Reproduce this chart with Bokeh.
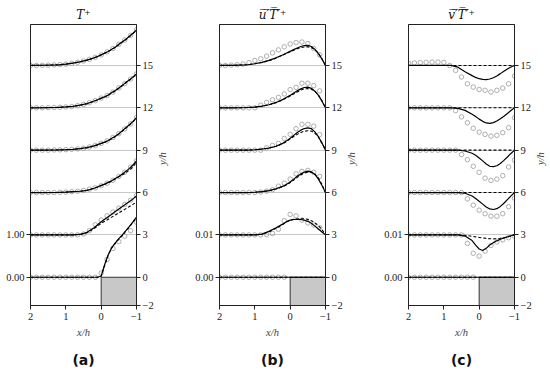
import math
from bokeh.plotting import figure
from bokeh.models import Range1d, LinearAxis, FixedTicker, Title
from bokeh.layouts import row
from bokeh.embed import file_html
from bokeh.resources import INLINE

NaN = float("nan")

# ---------------- data ----------------
offsets = [0, 3, 6, 9, 12, 15]                      # y/h of each profile
right_ticks = [-2, 0, 3, 6, 9, 12, 15]
right_tick_labels = ["\u22122", "0", "3", "6", "9", "12", "15"]
x_ticks = [2, 1, 0, -1]
x_tick_labels = ["2", "1", "0", "\u22121"]
block_x = [0, -1]
block_y = [-2, 0]

x_line = [2.0, 1.6, 1.2, 1.0, 0.8, 0.6, 0.4, 0.2, 0.1, 0.0,
          -0.1, -0.2, -0.3, -0.4, -0.5, -0.6, -0.7, -0.8, -0.9, -1.0]
x_circ = [2.0, 1.833, 1.667, 1.5, 1.333, 1.167, 1.0, 0.833, 0.667, 0.5,
          0.333, 0.167, 0.0, -0.167, -0.333, -0.5, -0.667, -0.833, -1.0]

# (a) T+
T_solid = [
    [0, 0, 0, 0, 0, 0, 0, 0, 0, 0.03, 0.3, 0.53, 0.7, 0.81, 0.91, 1.0, 1.1, 1.2, 1.31, 1.42],
    [0, 0, 0, 0, 0, 0.01, 0.06, 0.17, 0.24, 0.31, 0.37, 0.43, 0.49, 0.55, 0.61, 0.67, 0.73, 0.79, 0.85, 0.92],
    [0, 0, 0.003, 0.01, 0.02, 0.03, 0.05, 0.1, 0.13, 0.17, 0.2, 0.24, 0.28, 0.33, 0.38, 0.44, 0.5, 0.57, 0.65, 0.75],
    [0, 0.002, 0.006, 0.012, 0.02, 0.035, 0.06, 0.1, 0.13, 0.16, 0.19, 0.23, 0.28, 0.33, 0.39, 0.46, 0.53, 0.6, 0.68, 0.77],
    [0, 0.003, 0.01, 0.02, 0.035, 0.065, 0.1, 0.16, 0.19, 0.23, 0.26, 0.3, 0.36, 0.41, 0.47, 0.53, 0.6, 0.66, 0.73, 0.8],
    [0, 0.005, 0.015, 0.03, 0.055, 0.085, 0.125, 0.18, 0.21, 0.25, 0.29, 0.33, 0.38, 0.43, 0.5, 0.56, 0.62, 0.69, 0.76, 0.84],
]
T_dashed = [
    [0, 0, 0, 0, 0, 0, 0, 0, 0, 0.02, 0.28, 0.52, 0.69, 0.8, 0.9, 0.99, 1.09, 1.19, 1.3, 1.41],
    [0, 0, 0, 0, 0, 0.01, 0.05, 0.15, 0.21, 0.27, 0.32, 0.37, 0.42, 0.47, 0.52, 0.57, 0.62, 0.67, 0.72, 0.78],
    [0, 0, 0.003, 0.01, 0.02, 0.03, 0.05, 0.1, 0.13, 0.16, 0.19, 0.23, 0.27, 0.32, 0.37, 0.42, 0.47, 0.53, 0.61, 0.71],
    [0, 0.002, 0.006, 0.012, 0.02, 0.035, 0.06, 0.1, 0.125, 0.155, 0.185, 0.225, 0.27, 0.32, 0.38, 0.45, 0.52, 0.59, 0.67, 0.76],
    [0, 0.003, 0.01, 0.02, 0.035, 0.06, 0.095, 0.155, 0.185, 0.22, 0.255, 0.295, 0.35, 0.4, 0.46, 0.52, 0.59, 0.65, 0.72, 0.79],
    [0, 0.005, 0.015, 0.03, 0.055, 0.085, 0.125, 0.18, 0.21, 0.25, 0.29, 0.33, 0.38, 0.43, 0.49, 0.55, 0.61, 0.68, 0.75, 0.83],
]
T_circ = [
    [0, 0, 0, 0, 0, 0, 0, 0, 0, 0, 0, 0, 0.1, 0.42, 0.68, 0.84, 0.97, 1.1, 1.3],
    [0, 0, 0, 0, 0, 0, 0, 0, 0, 0.02, 0.1, 0.24, 0.35, 0.45, 0.54, 0.63, 0.72, 0.82, 0.93],
    [0, 0, 0, 0, 0, 0.005, 0.01, 0.02, 0.03, 0.05, 0.08, 0.11, 0.16, 0.22, 0.29, 0.38, 0.48, 0.6, 0.75],
    [0, 0, 0, 0, 0.005, 0.008, 0.012, 0.02, 0.03, 0.045, 0.075, 0.11, 0.16, 0.22, 0.3, 0.39, 0.5, 0.62, 0.77],
    [0, 0, 0, 0.004, 0.008, 0.012, 0.02, 0.03, 0.05, 0.08, 0.12, 0.17, 0.23, 0.29, 0.37, 0.47, 0.57, 0.68, 0.8],
    [0, 0, 0.003, 0.007, 0.012, 0.02, 0.03, 0.05, 0.075, 0.105, 0.145, 0.19, 0.25, 0.32, 0.4, 0.5, 0.6, 0.71, 0.84],
]

# (b) u'T'+  (values in units of 1e-3)
uT_solid = [
    [0] * 20,
    [0, 0, 0, 0, 0.17, 0.83, 1.67, 2.6, 3.17, 3.5, 3.63, 3.67, 3.63, 3.47, 3.2, 2.73, 2.07, 1.4, 0.7, 0],
    [0, 0, 0, 0.07, 0.2, 0.47, 0.9, 1.5, 1.93, 2.5, 3.17, 3.83, 4.4, 4.83, 5.07, 4.9, 4.27, 3.17, 1.67, 0],
    [0, 0, 0, 0.1, 0.27, 0.5, 0.93, 1.67, 2.2, 2.83, 3.5, 4.17, 4.73, 5.1, 5.27, 5.07, 4.33, 3.17, 1.67, 0],
    [0, 0, 0.07, 0.17, 0.4, 0.73, 1.27, 2.0, 2.47, 2.93, 3.47, 4.0, 4.47, 4.8, 4.87, 4.6, 3.93, 2.93, 1.57, 0],
    [0, 0.03, 0.17, 0.4, 0.73, 1.2, 1.8, 2.53, 2.93, 3.33, 3.73, 4.13, 4.47, 4.7, 4.73, 4.47, 3.8, 2.8, 1.5, 0],
]
uT_dashed = [
    [0] * 20,
    [0, 0, 0, 0, 0.13, 0.73, 1.57, 2.5, 3.07, 3.47, 3.67, 3.77, 3.83, 3.8, 3.67, 3.33, 2.87, 2.17, 1.27, 0],
    [0, 0, 0, 0.07, 0.2, 0.43, 0.83, 1.4, 1.83, 2.33, 2.93, 3.57, 4.13, 4.57, 4.8, 4.77, 4.33, 3.4, 1.93, 0],
    [0, 0, 0, 0.1, 0.27, 0.5, 0.9, 1.57, 2.07, 2.67, 3.23, 3.73, 4.17, 4.47, 4.6, 4.5, 4.0, 3.07, 1.67, 0],
    [0, 0, 0.07, 0.17, 0.37, 0.7, 1.2, 1.9, 2.33, 2.8, 3.27, 3.73, 4.2, 4.47, 4.53, 4.4, 3.87, 3.0, 1.67, 0],
    [0, 0.03, 0.17, 0.4, 0.7, 1.13, 1.73, 2.47, 2.87, 3.23, 3.6, 3.93, 4.2, 4.37, 4.4, 4.23, 3.73, 2.87, 1.6, 0],
]
uT_circ = [
    [0, 0, 0, 0, 0, 0, 0, 0, 0, 0, 0, 0, NaN, NaN, NaN, NaN, NaN, NaN, NaN],
    [0, 0, 0, 0, 0, 0, 0, 0, 0.07, 0.33, 1.33, 3.33, 4.83, 4.5, 3.5, 2.83, 2.33, 1.67, NaN],
    [0, 0, 0, 0, 0, 0, 0, 0.1, 0.33, 0.67, 1.5, 2.23, 3.17, 4.43, 5.0, 5.23, 4.77, 3.8, NaN],
    [0, 0, 0, 0, 0, 0, 0, 0, 0.57, 1.1, 1.6, 2.77, 3.73, 5.07, 6.1, 6.1, 5.67, 3.67, NaN],
    [0, 0, 0, 0, 0, 0, 0, 0.63, 1.27, 1.9, 2.47, 3.27, 4.3, 4.83, 5.8, 5.8, 5.23, 4.0, NaN],
    [0, 0, 0.07, 0.17, 0.33, 0.67, 1.17, 1.57, 2.2, 2.97, 3.67, 4.4, 5.07, 5.4, 5.53, 5.17, 4.0, 2.5, NaN],
]

# (c) v'T'+  (values in units of 1e-3)
vT_solid = [
    [0] * 20,
    [0, 0, 0, 0, 0, 0, -0.27, -1.33, -2.4, -3.33, -3.67, -3.17, -2.4, -1.83, -1.4, -1.03, -0.73, -0.47, -0.2, 0.07],
    [0, 0, 0, 0, 0, 0, -0.17, -0.83, -1.4, -2.07, -2.73, -3.4, -3.87, -4.0, -3.8, -3.27, -2.53, -1.67, -0.8, 0],
    [0, 0, 0, 0, 0, 0, -0.2, -0.73, -1.2, -1.83, -2.53, -3.27, -3.8, -3.9, -3.67, -3.13, -2.4, -1.6, -0.77, 0],
    [0, 0, 0, 0, 0, -0.13, -0.6, -1.5, -2.07, -2.67, -3.2, -3.57, -3.67, -3.5, -3.13, -2.6, -2.0, -1.33, -0.63, 0],
    [0, 0, 0, 0, 0, -0.4, -1.5, -2.4, -2.83, -3.13, -3.3, -3.33, -3.2, -2.9, -2.47, -1.93, -1.37, -0.83, -0.37, 0],
]
vT_dashed = [
    [0] * 20,
    [0, 0, 0, 0, 0, 0, -0.1, -0.33, -0.47, -0.6, -0.73, -0.83, -0.9, -0.93, -0.9, -0.8, -0.67, -0.5, -0.27, 0],
    [0] * 20,
    [0] * 20,
    [0] * 20,
    [0] * 20,
]
vT_circ = [
    [0, 0, 0, 0, 0, 0, 0, 0, 0, 0, 0, 0, NaN, NaN, NaN, NaN, NaN, NaN, NaN],
    [0, 0, 0, 0, 0, 0, 0, 0, 0, 0, -2.0, -4.33, -5.0, -3.83, -2.5, -1.67, -1.17, -0.67, -0.33],
    [0, 0, 0, 0, 0, 0, 0, 0, 0, 0, -1.5, -2.97, -4.17, -5.0, -5.57, -5.6, -5.0, -3.33, -1.33],
    [0, 0, 0, 0, 0, 0, 0, 0, 0, -1.03, -2.23, -3.8, -5.23, -6.6, -7.13, -6.83, -6.03, -3.97, -2.37],
    [0, 0, 0, 0, 0, 0, 0, 0, -0.67, -2.13, -3.53, -4.83, -5.73, -6.27, -6.67, -6.5, -5.87, -4.7, -2.33],
    [0.53, 0.6, 0.67, 0.73, 0.8, 0.8, 0.73, 0, -1.17, -2.73, -4.33, -5.1, -5.67, -5.87, -6.27, -5.87, -5.33, -4.33, -2.5],
]

# left-axis reference values (value shown at y/h = 3)
left_a = [0.0, 1.0]
left_bc = [0.0, 0.01]
left_a_labels = ["0.00", "1.00"]
left_bc_labels = ["0.00", "0.01"]

# plot units per data unit (3 y/h per 1.0 of T+, 3 y/h per 0.01 of fluxes)
scale_a = 3.0
scale_bc = 300.0 * 1e-3   # data stored in 1e-3

SERIF = "Liberation Serif"
MATH = "DejaVu Serif"


def build(title, letter, solid, dashed, circ, scale, left_vals, left_labels,
          left_scale, border_left, border_right):
    p = figure(frame_width=106, frame_height=281,
               x_range=Range1d(2, -1), y_range=Range1d(-2, 17.9),
               output_backend="svg", toolbar_location=None,
               y_axis_location=None, x_axis_location="below",
               min_border_left=border_left, min_border_right=border_right,
               min_border_top=24, min_border_bottom=62, title=title)
    p.background_fill_color = "white"
    p.border_fill_color = "white"
    p.outline_line_color = "#222222"
    p.outline_line_width = 1
    p.xgrid.visible = False
    p.ygrid.ticker = FixedTicker(ticks=offsets[1:])
    p.ygrid.grid_line_color = "#c8c8c8"
    p.ygrid.grid_line_width = 1

    p.title.align = "center"
    p.title.text_font = MATH
    p.title.text_font_style = "italic"
    p.title.text_font_size = "12px"
    p.title.text_color = "#111111"
    p.title.standoff = 5

    xa = p.xaxis[0]
    xa.ticker = FixedTicker(ticks=x_ticks)
    xa.major_label_overrides = {t: l for t, l in zip(x_ticks, x_tick_labels)}
    xa.axis_label = "x/h"

    ra = LinearAxis(ticker=FixedTicker(ticks=right_ticks), axis_label="y/h",
                    major_label_overrides={t: l for t, l in zip(right_ticks, right_tick_labels)})
    la_ticks = [v * left_scale for v in left_vals]
    la = LinearAxis(ticker=FixedTicker(ticks=la_ticks),
                    major_label_overrides={t: l for t, l in zip(la_ticks, left_labels)})
    p.add_layout(ra, "right")
    p.add_layout(la, "left")

    for ax in [xa, ra, la]:
        ax.axis_line_color = "#222222"
        ax.major_tick_line_color = "#222222"
        ax.major_tick_out = 4
        ax.major_tick_in = 0
        ax.minor_tick_line_color = None
        ax.major_label_text_font = SERIF
        ax.major_label_text_font_size = "10.5px"
        ax.major_label_text_color = "#222222"
        ax.major_label_standoff = 2
        ax.axis_label_text_font = SERIF
        ax.axis_label_text_font_style = "italic"
        ax.axis_label_text_font_size = "10.5px"
        ax.axis_label_text_color = "#444444"
        ax.axis_label_standoff = 3
    xa.major_label_standoff = 3
    xa.axis_label_standoff = 4
    ra.axis_label_standoff = 6
    try:
        ra.axis_label_orientation = math.pi / 2
    except Exception:
        pass

    p.quad(left=[block_x[0]], right=[block_x[1]], bottom=[block_y[0]], top=[block_y[1]],
           fill_color="#c8c8c8", line_color="#333333", line_width=1)

    for k, off in enumerate(offsets):
        ys = [off + v * scale for v in solid[k]]
        yd = [off + v * scale for v in dashed[k]]
        yc = [off + v * scale for v in circ[k]]
        p.scatter(x_circ, yc, marker="circle", size=4.5, fill_color=None,
                  line_color="#9a9a9a", line_width=0.8)
        p.line(x_line, ys, line_color="black", line_width=1.2)
        p.line(x_line, yd, line_color="black", line_width=1.1, line_dash="3 2")

    p.add_layout(Title(text=letter, align="center", text_font="DejaVu Sans",
                       text_font_style="bold", text_font_size="14px",
                       text_color="#111111", standoff=18), "below")
    return p


pa = build("T\u207a", "(a)", T_solid, T_dashed, T_circ, scale_a,
           left_a, left_a_labels, scale_a, 30, 56)
pb = build("u\u0305\u2032\u0305T\u0305\u2032\u0305\u207a", "(b)", uT_solid, uT_dashed, uT_circ, scale_bc,
           left_bc, left_bc_labels, 300.0, 24, 56)
pc = build("v\u0305\u2032\u0305T\u0305\u2032\u0305\u207a", "(c)", vT_solid, vT_dashed, vT_circ, scale_bc,
           left_bc, left_bc_labels, 300.0, 24, 35)

layout = row(pa, pb, pc)
open("out.html", "w").write(file_html(layout, INLINE))
